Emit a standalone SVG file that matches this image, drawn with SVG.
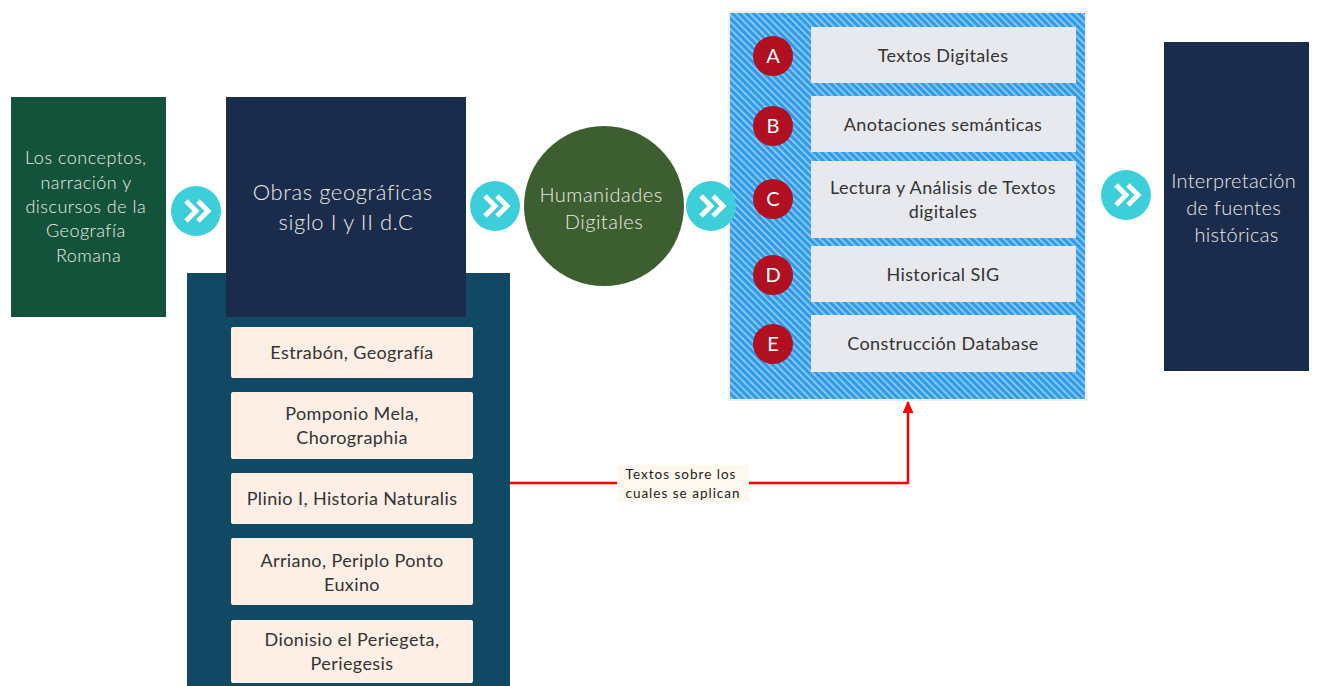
<svg xmlns="http://www.w3.org/2000/svg" width="1317" height="686" viewBox="0 0 1317 686">
<style>
  text { font-family: Lato, "Noto Sans", "Liberation Sans", sans-serif; text-anchor: middle; font-weight: 300; }
  .light { fill: #eceae2; }
  .dark { fill: #333333; font-size: 18px; letter-spacing: 0.4px; font-weight: 400; }
  .item { fill: #fdeee6; }
  .ritem { fill: #e8e9ef; }
  .badge { fill: #b01020; }
  .badgeT { fill: #ffffff; font-size: 20px; font-weight: 400; }
  .chev { fill: none; stroke: #ffffff; stroke-width: 5; stroke-linejoin: miter; }
  .lbl { font-size: 13.5px; letter-spacing: 1px; fill: #222222; font-weight: 400; }
</style>
<defs>
  <pattern id="hatch" width="5" height="5" patternUnits="userSpaceOnUse" patternTransform="rotate(-45)">
    <rect width="5" height="5" fill="#2e9bef"/>
    <rect x="0" y="0" width="1.6" height="5" fill="#9bd0f7"/>
  </pattern>
  <g id="chevBtn">
    <circle r="25" fill="#3ccfd9"/>
    <path class="chev" d="M-10 -10 L0 0 L-10 10 M2 -10 L12 0 L2 10"/>
  </g>
  <marker id="redArrow" markerWidth="12" markerHeight="11" refX="11" refY="5.5" orient="auto" markerUnits="userSpaceOnUse" viewBox="0 0 12 11">
    <path d="M0 0 L12 5.5 L0 11 Z" fill="#ff0000"/>
  </marker>
</defs>

<g id="node-conceptos">
  <rect x="11" y="97" width="155" height="220" fill="#14533b"/>
  <text class="light" font-size="18" letter-spacing="0.5">
    <tspan x="88.5" y="164">Los conceptos,</tspan>
    <tspan x="88.5" y="189">narración y</tspan>
    <tspan x="88.5" y="213">discursos de la</tspan>
    <tspan x="88.5" y="237">Geografía</tspan>
    <tspan x="88.5" y="262">Romana</tspan>
  </text>
</g>

<g id="node-obras-panel">
  <rect x="187" y="273" width="323" height="413" fill="#114864"/>
</g>

<g id="node-obras">
  <rect x="226" y="97" width="240" height="220" fill="#1a2b4c"/>
  <text class="light" font-size="22" letter-spacing="0.6">
    <tspan x="346" y="200">Obras geográficas</tspan>
    <tspan x="346" y="230">siglo I y II d.C</tspan>
  </text>
</g>

<g id="node-estrabon">
  <rect class="item" x="231" y="327" width="242" height="51" rx="2"/>
  <text class="dark" x="352" y="359">Estrabón, Geografía</text>
</g>
<g id="node-pomponio">
  <rect class="item" x="231" y="392" width="242" height="67" rx="2"/>
  <text class="dark"><tspan x="352" y="420">Pomponio Mela,</tspan><tspan x="352" y="444">Chorographia</tspan></text>
</g>
<g id="node-plinio">
  <rect class="item" x="231" y="473" width="242" height="51" rx="2"/>
  <text class="dark" x="352" y="505">Plinio I, Historia Naturalis</text>
</g>
<g id="node-arriano">
  <rect class="item" x="231" y="538" width="242" height="67" rx="2"/>
  <text class="dark"><tspan x="352" y="567">Arriano, Periplo Ponto</tspan><tspan x="352" y="591">Euxino</tspan></text>
</g>
<g id="node-dionisio">
  <rect class="item" x="231" y="620" width="242" height="63" rx="2"/>
  <text class="dark"><tspan x="352" y="646">Dionisio el Periegeta,</tspan><tspan x="352" y="670">Periegesis</tspan></text>
</g>

<g id="node-humanidades">
  <circle cx="604" cy="206" r="80" fill="#3d5e30"/>
  <text class="light" font-size="20" letter-spacing="0.5">
    <tspan x="604" y="202">Humanidades</tspan>
    <tspan x="604" y="229">Digitales</tspan>
  </text>
</g>

<g id="node-metodos">
  <rect x="729" y="12" width="357" height="388" fill="url(#hatch)" stroke="#fbece4" stroke-width="2"/>
</g>

<g id="node-A">
  <rect class="ritem" x="811" y="27" width="265" height="56"/>
  <circle class="badge" cx="773" cy="56" r="20"/>
  <text class="badgeT" x="773" y="63">A</text>
  <text class="dark" x="943" y="62">Textos Digitales</text>
</g>
<g id="node-B">
  <rect class="ritem" x="811" y="96" width="265" height="56"/>
  <circle class="badge" cx="773" cy="126" r="20"/>
  <text class="badgeT" x="773" y="133">B</text>
  <text class="dark" x="943" y="131">Anotaciones semánticas</text>
</g>
<g id="node-C">
  <rect class="ritem" x="811" y="161" width="265" height="77"/>
  <circle class="badge" cx="773" cy="199" r="20"/>
  <text class="badgeT" x="773" y="206">C</text>
  <text class="dark"><tspan x="943" y="194">Lectura y Análisis de Textos</tspan><tspan x="943" y="218">digitales</tspan></text>
</g>
<g id="node-D">
  <rect class="ritem" x="811" y="246" width="265" height="56"/>
  <circle class="badge" cx="773" cy="275" r="20"/>
  <text class="badgeT" x="773" y="282">D</text>
  <text class="dark" x="943" y="281">Historical SIG</text>
</g>
<g id="node-E">
  <rect class="ritem" x="811" y="315" width="265" height="57"/>
  <circle class="badge" cx="773" cy="344" r="20"/>
  <text class="badgeT" x="773" y="351">E</text>
  <text class="dark" x="943" y="350">Construcción Database</text>
</g>

<g id="node-interpretacion">
  <rect x="1164" y="42" width="145" height="329" fill="#1a2b4c"/>
  <text class="light" font-size="20" letter-spacing="0.3">
    <tspan x="1236.5" y="188">Interpretación</tspan>
    <tspan x="1236.5" y="215">de fuentes</tspan>
    <tspan x="1236.5" y="242">históricas</tspan>
  </text>
</g>

<g id="connectors">
  <use href="#chevBtn" x="196" y="211"/>
  <use href="#chevBtn" x="495" y="206"/>
  <use href="#chevBtn" x="711" y="206"/>
  <use href="#chevBtn" x="1126" y="195"/>
  <path d="M510 483 L908 483 L908 402" fill="none" stroke="#ff0000" stroke-width="2.5" marker-end="url(#redArrow)"/>
  <rect x="617" y="465" width="132" height="37" fill="#fff8ee"/>
  <text class="lbl"><tspan x="681" y="479">Textos sobre los</tspan><tspan x="683" y="498">cuales se aplican</tspan></text>
</g>
</svg>
